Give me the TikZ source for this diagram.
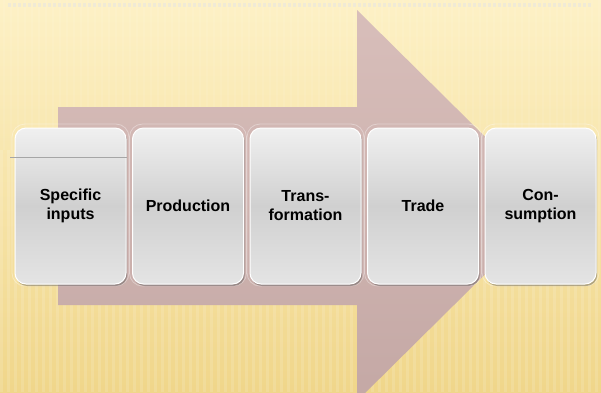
\documentclass[tikz,border=0pt]{standalone}
\usepackage{fontspec}
\setmainfont{Liberation Sans}
\usetikzlibrary{shadows,fadings}
\definecolor{bgtop}{RGB}{253,241,198}
\definecolor{bgbot}{RGB}{240,214,138}
\definecolor{arrtop}{RGB}{216,190,186}
\definecolor{arrbot}{RGB}{196,168,165}
\definecolor{boxtop}{RGB}{240,240,240}
\definecolor{boxmid}{RGB}{208,208,208}
\definecolor{boxbot}{RGB}{228,228,228}
\tikzset{
  stage/.style={rounded corners=11pt, minimum width=111pt, minimum height=156pt,
    inner sep=0pt, draw=white, line width=1pt,
    top color=boxtop, bottom color=boxbot, middle color=boxmid,
    drop shadow={shadow xshift=1.2pt, shadow yshift=-2pt, opacity=.4, fill=black!70},
    align=center, font=\fontsize{16}{19}\selectfont\bfseries, text=black},
  glow/.style={rounded corners=13pt, draw=white, opacity=.35, line width=.8pt},
  band/.style={line width=4pt, dash pattern=on 3pt off 2pt, color=gray!20, opacity=.5}
}
\begin{document}
\begin{tikzpicture}[x=1pt,y=-1pt]
\useasboundingbox (0,0) rectangle (601,392);
% background
\shade[top color=bgtop, bottom color=bgbot] (0,0) rectangle (601,392);
\foreach \x in {0,7,...,601}
  \fill[white, opacity=.13] (\x,150) rectangle (\x+2.5,392);
\foreach \x in {3,10,...,601}
  \fill[white, opacity=.07] (\x,0) rectangle (\x+2,150);
\draw[band] (8,5) -- (592,5);
% big arrow
\coordinate (s1) at (58,107);
\coordinate (s2) at (357,107);
\coordinate (h1) at (357,10);
\coordinate (tip) at (554.5,205.5);
\coordinate (h2) at (357,401);
\coordinate (s3) at (357,305);
\coordinate (s4) at (58,305);
\shade[top color=arrtop, bottom color=arrbot]
  (s1) -- (s2) -- (h1) -- (tip) -- (h2) -- (s3) -- (s4) -- cycle;
% stages
\foreach \cx in {70.5,188,305.5,423,540.5}
  \draw[glow] (\cx-58.5,124) rectangle (\cx+58.5,286);
\node[stage] (b1) at (70.5,206) {Specific\\inputs};
\node[stage] (b2) at (188,206) {Production};
\node[stage] (b3) at (305.5,206) {Trans-\\formation};
\node[stage] (b4) at (423,206) {Trade};
\node[stage] (b5) at (540.5,206) {Con-\\sumption};
\draw[gray!70, line width=.5pt] (10,157) -- (b1.east |- 0,157);
\end{tikzpicture}
\end{document}
